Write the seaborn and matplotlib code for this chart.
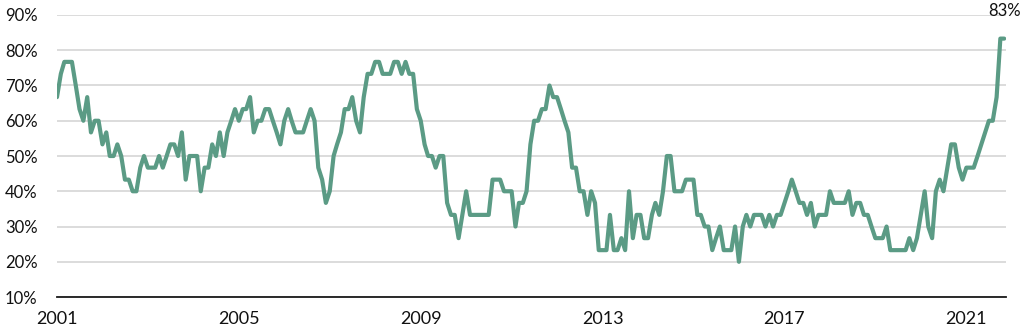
import pandas as pd
import matplotlib.pyplot as plt
import matplotlib.ticker as mticker
import seaborn as sns

# Monthly share (%), Jan 2001 onwards
start_month = "2001-01-01"
share_pct = [
    # 2001
    66.7, 73.3, 76.7, 76.7, 76.7, 70.0, 63.3, 60.0, 66.7, 56.7, 60.0, 60.0,
    # 2002
    53.3, 56.7, 50.0, 50.0, 53.3, 50.0, 43.3, 43.3, 40.0, 40.0, 46.7, 50.0,
    # 2003
    46.7, 46.7, 46.7, 50.0, 46.7, 50.0, 53.3, 53.3, 50.0, 56.7, 43.3, 50.0,
    # 2004
    50.0, 50.0, 40.0, 46.7, 46.7, 53.3, 50.0, 56.7, 50.0, 56.7, 60.0, 63.3,
    # 2005
    60.0, 63.3, 63.3, 66.7, 56.7, 60.0, 60.0, 63.3, 63.3, 60.0, 56.7, 53.3,
    # 2006
    60.0, 63.3, 60.0, 56.7, 56.7, 56.7, 60.0, 63.3, 60.0, 46.7, 43.3, 36.7,
    # 2007
    40.0, 50.0, 53.3, 56.7, 63.3, 63.3, 66.7, 60.0, 56.7, 66.7, 73.3, 73.3,
    # 2008
    76.7, 76.7, 73.3, 73.3, 73.3, 76.7, 76.7, 73.3, 76.7, 73.3, 73.3, 63.3,
    # 2009
    60.0, 53.3, 50.0, 50.0, 46.7, 50.0, 50.0, 36.7, 33.3, 33.3, 26.7, 33.3,
    # 2010
    40.0, 33.3, 33.3, 33.3, 33.3, 33.3, 33.3, 43.3, 43.3, 43.3, 40.0, 40.0,
    # 2011
    40.0, 30.0, 36.7, 36.7, 40.0, 53.3, 60.0, 60.0, 63.3, 63.3, 70.0, 66.7,
    # 2012
    66.7, 63.3, 60.0, 56.7, 46.7, 46.7, 40.0, 40.0, 33.3, 40.0, 36.7, 23.3,
    # 2013
    23.3, 23.3, 33.3, 23.3, 23.3, 26.7, 23.3, 40.0, 26.7, 33.3, 33.3, 26.7,
    # 2014
    26.7, 33.3, 36.7, 33.3, 40.0, 50.0, 50.0, 40.0, 40.0, 40.0, 43.3, 43.3,
    # 2015
    43.3, 33.3, 33.3, 30.0, 30.0, 23.3, 26.7, 30.0, 23.3, 23.3, 23.3, 30.0,
    # 2016
    20.0, 30.0, 33.3, 30.0, 33.3, 33.3, 33.3, 30.0, 33.3, 30.0, 33.3, 33.3,
    # 2017
    36.7, 40.0, 43.3, 40.0, 36.7, 36.7, 33.3, 36.7, 30.0, 33.3, 33.3, 33.3,
    # 2018
    40.0, 36.7, 36.7, 36.7, 36.7, 40.0, 33.3, 36.7, 36.7, 33.3, 33.3, 30.0,
    # 2019
    26.7, 26.7, 26.7, 30.0, 23.3, 23.3, 23.3, 23.3, 23.3, 26.7, 23.3, 26.7,
    # 2020
    33.3, 40.0, 30.0, 26.7, 40.0, 43.3, 40.0, 46.7, 53.3, 53.3, 46.7, 43.3,
    # 2021
    46.7, 46.7, 46.7, 50.0, 53.3, 56.7, 60.0, 60.0, 66.7, 83.3, 83.3,
]
year_ticks = ["2001", "2005", "2009", "2013", "2017", "2021"]
y_ticks = [10, 20, 30, 40, 50, 60, 70, 80, 90]
last_label = "83%"

df = pd.DataFrame({
    "date": pd.date_range(start_month, periods=len(share_pct), freq="MS"),
    "share": share_pct,
})

sns.set_style("white")
plt.rcParams["font.family"] = ["Lato", "DejaVu Sans"]

fig = plt.figure(figsize=(10.23, 3.33), dpi=100)
ax = fig.add_axes([0.0557, 0.108, 0.928, 0.847])

line_color = "#5b9b85"
sns.lineplot(data=df, x="date", y="share", ax=ax, color=line_color,
             linewidth=3.0, solid_joinstyle="round")

# axes, grid
ax.set_ylim(10, 90)
ax.set_yticks(y_ticks)
ax.yaxis.set_major_formatter(mticker.FuncFormatter(lambda v, p: f"{v:.0f}%"))
ax.grid(axis="y", color="#d9d9d9", linewidth=1.3)
ax.set_axisbelow(True)

ax.set_xlim(pd.Timestamp("2001-01-01"), pd.Timestamp("2021-11-18"))
ax.set_xticks([pd.Timestamp(f"{y}-01-01") for y in year_ticks])
ax.set_xticklabels(year_ticks)

for s in ["top", "right", "left"]:
    ax.spines[s].set_visible(False)
ax.spines["bottom"].set_color("#1a1a1a")
ax.spines["bottom"].set_linewidth(1.3)

ax.tick_params(axis="y", length=0, pad=14, labelsize=12, labelcolor="#111111")
ax.tick_params(axis="x", length=0, pad=10, labelsize=13, labelcolor="#111111")
ax.set_xlabel("")
ax.set_ylabel("")

# label on the last point
ax.annotate(last_label, xy=(df["date"].iloc[-1], df["share"].iloc[-1]),
            xytext=(0, 20), textcoords="offset points", ha="center", va="center",
            fontsize=12, color="#111111", annotation_clip=False)

fig.savefig("out.png", dpi=100)
